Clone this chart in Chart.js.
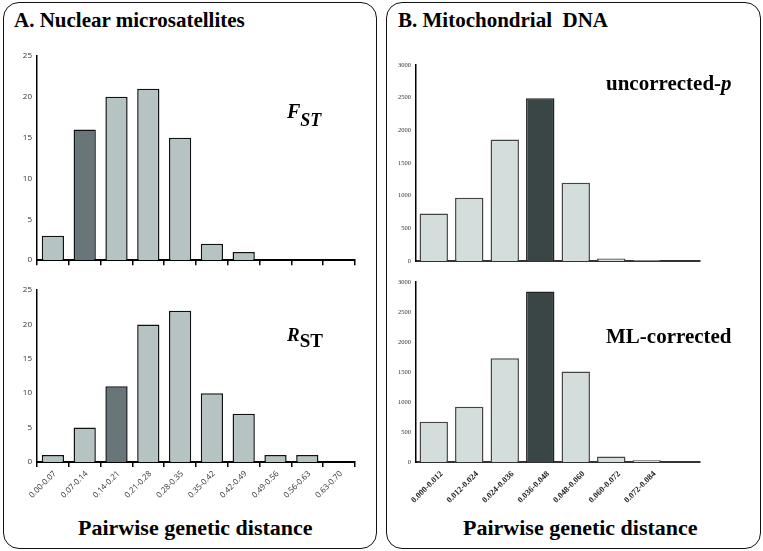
<!DOCTYPE html>
<html>
<head>
<meta charset="utf-8">
<script src="https://cdn.jsdelivr.net/npm/chart.js@4"></script>
<style>
  html,body{margin:0;padding:0;background:#fff;}
  body{width:763px;height:551px;position:relative;overflow:hidden;}
  .box{position:absolute;border:1.6px solid #111;border-radius:16px;box-sizing:border-box;}
  canvas{position:absolute;}
  .t{position:absolute;font-family:"Liberation Serif","Times New Roman","DejaVu Serif",serif;font-weight:bold;color:#000;white-space:nowrap;line-height:1;}
</style>
</head>
<body>
<div class="box" style="left:3px;top:2px;width:374px;height:547px;"></div>
<div class="box" style="left:386px;top:2px;width:375px;height:547px;"></div>

<div class="t" style="left:14px;top:10px;font-size:21px;">A. Nuclear microsatellites</div>
<div class="t" style="left:398px;top:10px;font-size:21px;">B. Mitochondrial&nbsp; DNA</div>

<canvas id="c1" width="360" height="230" style="left:8px;top:40px;"></canvas>
<canvas id="c2" width="360" height="240" style="left:8px;top:275px;"></canvas>
<canvas id="c3" width="360" height="220" style="left:388px;top:50px;"></canvas>
<canvas id="c4" width="360" height="243" style="left:388px;top:272px;"></canvas>

<div class="t" style="left:287px;top:101px;font-size:20px;font-style:italic;">F<span style="font-size:18px;position:relative;top:8px;">ST</span></div>
<div class="t" style="left:287px;top:325px;font-size:19px;"><i>R</i><span style="font-size:19px;position:relative;top:6px;">ST</span></div>
<div class="t" style="left:606px;top:73px;font-size:21px;">uncorrected-<i>p</i></div>
<div class="t" style="left:606px;top:326px;font-size:21px;">ML-corrected</div>

<div class="t" style="left:78px;top:517px;font-size:22px;">Pairwise genetic distance</div>
<div class="t" style="left:463px;top:517px;font-size:22px;">Pairwise genetic distance</div>

<script>
// ---- data ----
const nucCategories = ["0.00-0.07","0.07-0.14","0.14-0.21","0.21-0.28","0.28-0.35","0.35-0.42","0.42-0.49","0.49-0.56","0.56-0.63","0.63-0.70"];
const fstValues = [3,16,20,21,15,2,1,0,0,0];
const rstValues = [1,5,11,20,22,10,7,1,1,0];
const nucTicks = [0,5,10,15,20,25];

const mtCategories = ["0.000-0.012","0.012-0.024","0.024-0.036","0.036-0.048","0.048-0.060","0.060-0.072","0.072-0.084",""];
const uncorrectedValues = [730,970,1860,2490,1200,40,15,0];
const mlValues = [670,920,1730,2840,1510,90,30,0];
const mtTicks = [0,500,1000,1500,2000,2500,3000];

const fstHighlight = 1, rstHighlight = 2, mtHighlight = 3;

const SERIF = '"Liberation Serif", "Times New Roman", "DejaVu Serif", serif';
const SANS = '"Open Sans", "Liberation Sans", sans-serif';

function colors(n, hi, light, dark){ return Array.from({length:n},(_,i)=> i===hi?dark:light); }

function makeChart(id, cats, vals, hi, cfg){
  const ctx = document.getElementById(id);
  return new Chart(ctx, {
    type:'bar',
    data:{labels:cats, datasets:[{
      data:vals,
      backgroundColor:colors(vals.length,hi,cfg.light,cfg.dark),
      borderColor:colors(vals.length,hi,cfg.border,cfg.darkBorder),
      borderWidth:1.5,
      barPercentage:cfg.barPct, categoryPercentage:1
    }]},
    options:{
      responsive:false, animation:false, devicePixelRatio:1,
      layout:{padding:{top:cfg.padTop,right:cfg.padRight,left:0,bottom:0}},
      plugins:{legend:{display:false},tooltip:{enabled:false}},
      scales:{
        x:{
          offset:true,
          grid:{display:cfg.xTicks, offset:true, drawOnChartArea:false, drawTicks:true, tickLength:5, color:'#000', lineWidth:1.5},
          border:{display:true,color:cfg.xAxisColor,width:2},
          ticks:{display:cfg.showX, maxRotation:45, minRotation:45, autoSkip:false, padding:cfg.xPad,
            labelOffset:cfg.labelOffset, font:cfg.xFont, color:cfg.xColor},
          afterFit:(s)=>{s.height=cfg.xh;}
        },
        y:{
          min:0,max:cfg.max,
          afterBuildTicks:(s)=>{s.ticks=cfg.yTicks.map(v=>({value:v}));},
          grid:{display:false, drawTicks:false},
          border:{display:true,color:'#000',width:1.5},
          ticks:{font:cfg.yFont,color:cfg.yColor,padding:5,callback:(v)=>String(v)},
          afterFit:(s)=>{s.width=cfg.yw;}
        }
      }
    }
  });
}

const leftCfg = {light:'#b5c4c3',dark:'#687679',border:'#111',darkBorder:'#111',barPct:0.7,
  xTicks:true, xAxisColor:'#000', yw:29, padRight:13, max:25, yTicks:nucTicks, labelOffset:2, xPad:2,
  xFont:{family:SANS,size:8}, xColor:'#333',
  yFont:{family:SANS,size:8}, yColor:'#333'};
const rightCfg = {light:'#d3dedc',dark:'#3a4646',border:'#444',darkBorder:'#222',barPct:0.8,
  xTicks:false, xAxisColor:'#333', yw:28, padRight:48, max:3000, yTicks:mtTicks, labelOffset:8, xPad:2,
  xFont:{family:SERIF,size:8.5,weight:'bold'}, xColor:'#222',
  yFont:{family:SERIF,size:6.5}, yColor:'#333'};

makeChart('c1', nucCategories, fstValues, fstHighlight, Object.assign({},leftCfg,{padTop:16,xh:8,showX:false}));
makeChart('c2', nucCategories, rstValues, rstHighlight, Object.assign({},leftCfg,{padTop:15,xh:53,showX:true}));
makeChart('c3', mtCategories, uncorrectedValues, mtHighlight, Object.assign({},rightCfg,{padTop:15,xh:7,showX:false}));
makeChart('c4', mtCategories, mlValues, mtHighlight, Object.assign({},rightCfg,{padTop:10,xh:53,showX:true}));
</script>
</body>
</html>
